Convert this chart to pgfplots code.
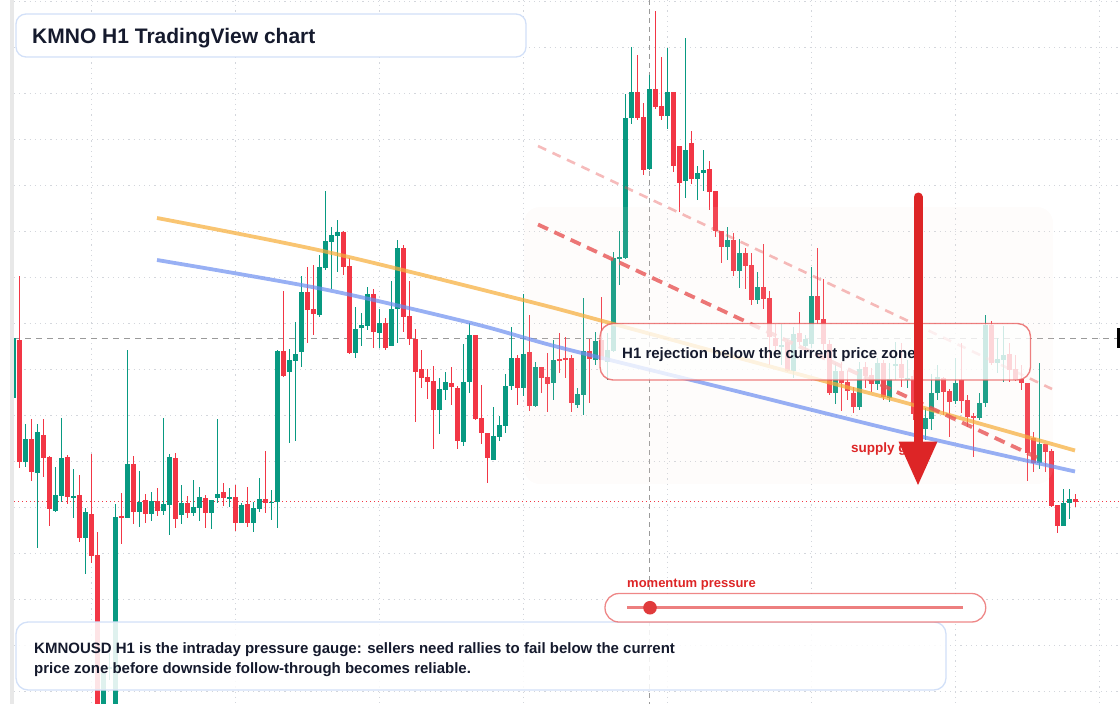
\documentclass[border=0pt]{standalone}
\usepackage{pgfplots}
\pgfplotsset{compat=1.18}
\usepackage{pgfplotstable}
\usepackage{fontspec}
\setmainfont{Liberation Sans}

\definecolor{cgreen}{HTML}{089981}
\definecolor{cred}{HTML}{F23645}
\definecolor{gridc}{HTML}{D3D6DC}
\definecolor{dashgray}{HTML}{9A9A9A}
\definecolor{txt}{HTML}{151A2D}
\definecolor{boxblue}{HTML}{D2E0F8}
\definecolor{lorange}{HTML}{F6AE3C}
\definecolor{lblue}{HTML}{6C8EF0}
\definecolor{dred}{HTML}{E85555}
\definecolor{arrowred}{HTML}{DD2526}
\definecolor{zonec}{HTML}{F5E3D5}

% green candles: x, open, high, low, close (pixel scale, y grows downward)
\pgfplotstableread{
x O H L C
13.3 398 337 400 338
25.3 462 424 467 439
37.3 473 424 548 432
55.3 511 467 512 495
61.3 496 418 502 458
73.3 497 469 518 496
85.3 538 508 574 512
103.3 720 665 730 673
109.3 669 653 680 667
115.3 720 504 730 517
127.3 518 350 518 464
139.3 512 471 527 502
151.3 514 492 521 501
163.3 511 418 515 504
169.3 505 454 535 457
181.3 515 485 524 503
193.3 513 480 516 507
199.3 508 487 521 497
211.3 513 500 529 500
217.3 498 419 503 494
229.3 498 488 507 497
241.3 523 503 523 505
253.3 523 502 532 508
259.3 509 478 512 499
271.3 503 490 520 502
277.3 502 350 528 351
289.3 372 349 443 360
295.3 361 322 441 354
301.3 352 276 367 292
319.3 315 255 317 267
325.3 268 191 270 241
331.3 242 227 289 235
337.3 236 220 272 232
355.3 353 307 358 329
361.3 328 313 346 325
367.3 326 287 330 294
379.3 333 309 348 323
391.3 346 281 346 309
397.3 309 240 343 248
439.3 410 378 434 389
445.3 390 372 400 382
463.3 442 344 446 382
469.3 382 323 393 335
493.3 460 407 460 436
499.3 437 416 441 425
505.3 426 374 433 386
511.3 386 327 390 358
523.3 388 294 396 354
535.3 406 362 407 367
553.3 383 340 400 360
577.3 405 388 408 394
583.3 395 298 415 351
595.3 360 332 365 341
607.3 362 333 380 350
613.3 351 252 352 258
619.3 258 231 285 257
625.3 258 94 259 118
631.3 118 47 124 92
649.3 169 75 170 89
667.3 116 48 129 92
685.3 181 38 198 150
697.3 179 166 200 173
703.3 173 150 191 170
727.3 247 227 260 240
739.3 271 239 288 253
757.3 300 272 304 287
781.3 346 324 365 345
793.3 371 327 378 334
805.3 346 335 350 339
811.3 344 267 348 296
835.3 393 363 404 371
859.3 407 362 410 369
877.3 384 358 390 363
889.3 398 363 402 379
895.3 365 342 380 364
907.3 379 360 388 378
919.3 414 395 425 405
925.3 429 408 440 418
931.3 419 374 430 393
937.3 393 365 400 377
955.3 401 358 404 383
979.3 418 393 420 403
985.3 403 315 407 325
997.3 363 338 373 359
1003.3 360 326 382 355
1039.3 463 363 469 444
1063.3 526 489 526 503
1069.3 503 489 519 499
}\greenc

% red candles
\pgfplotstableread{
x O H L C
19.3 340 276 468 462
31.3 439 419 481 472
43.3 435 419 477 458
49.3 457 456 526 509
67.3 457 455 504 497
79.3 495 475 542 538
91.3 514 454 563 556
97.3 555 532 730 720
121.3 516 493 544 518
133.3 464 456 524 512
145.3 500 494 523 514
157.3 501 488 516 511
175.3 458 453 528 519
187.3 503 496 518 513
205.3 498 495 528 513
223.3 492 483 506 498
235.3 497 485 531 523
247.3 504 487 527 523
265.3 499 451 513 503
283.3 351 291 377 376
307.3 292 267 343 310
313.3 309 265 335 314
343.3 232 231 275 267
349.3 266 258 354 353
373.3 294 289 348 332
385.3 323 318 350 348
403.3 248 245 332 317
409.3 316 281 345 339
415.3 339 329 422 372
421.3 369 350 388 378
427.3 377 369 399 382
433.3 381 366 449 410
451.3 383 367 405 387
457.3 388 386 449 441
475.3 335 335 420 419
481.3 418 385 444 433
487.3 433 433 483 458
517.3 358 355 405 388
529.3 352 315 411 406
541.3 367 367 393 378
547.3 377 353 412 384
559.3 359 333 373 360
565.3 358 337 378 359
571.3 358 355 412 403
589.3 351 339 403 359
601.3 340 297 360 360
637.3 92 55 120 118
643.3 117 103 175 170
655.3 89 11 109 107
661.3 106 57 120 116
673.3 92 92 172 166
679.3 146 146 212 183
691.3 143 131 184 179
709.3 169 161 210 192
715.3 191 191 237 231
721.3 231 231 263 247
733.3 240 233 276 271
745.3 253 248 289 266
751.3 265 253 305 300
763.3 287 244 309 299
769.3 298 291 365 337
775.3 338 324 353 346
787.3 342 340 372 371
799.3 333 312 345 342
817.3 296 248 324 320
823.3 319 279 350 344
829.3 344 340 395 393
841.3 371 362 411 383
847.3 382 371 400 391
853.3 393 387 413 407
865.3 367 362 388 376
871.3 375 368 392 384
883.3 363 360 400 397
901.3 364 343 387 378
913.3 376 370 420 414
943.3 378 377 415 392
949.3 391 389 437 402
961.3 380 343 413 401
967.3 400 395 427 417
973.3 416 413 457 417
991.3 325 321 365 363
1009.3 354 343 382 370
1015.3 369 355 381 380
1021.3 379 365 390 383
1027.3 383 383 481 453
1033.3 438 432 472 463
1045.3 444 444 472 452
1051.3 451 449 507 506
1057.3 505 505 533 526
1075.3 499 494 507 502
}\redc

\begin{document}
\begin{tikzpicture}
\begin{axis}[
  width=1120bp, height=704bp, scale only axis,
  xmin=0, xmax=1120, ymin=0, ymax=704, y dir=reverse,
  axis lines=none, ticks=none, clip=true,
]
% grid
\pgfplotsinvokeforeach{91.3,235.3,379.3,523.3,667.3,811.3,955.3,1099.3}{
  \draw[gridc, line width=1bp, dash pattern=on 1.2bp off 4bp] (axis cs:#1,0) -- (axis cs:#1,704);
}
\pgfplotsinvokeforeach{1.3,47.3,93.3,139.3,185.3,231.3,277.3,323.3,369.3,415.3,461.3,507.3,553.3,599.3,645.3,691.3}{
  \draw[gridc, line width=1bp, dash pattern=on 1.2bp off 4bp] (axis cs:14,#1) -- (axis cs:1120,#1);
}
% reference lines
\draw[dashgray, line width=1.1bp, dash pattern=on 5bp off 4bp] (axis cs:649.3,0) -- (axis cs:649.3,704);
\draw[dashgray, line width=1.1bp, dash pattern=on 6bp off 5bp] (axis cs:14,338.5) -- (axis cs:1117,338.5);
\draw[cred, line width=1bp, dash pattern=on 1.2bp off 2.8bp] (axis cs:14,501.2) -- (axis cs:1120,501.2);

% candles: wicks then bodies
\addplot[draw=none, mark=none, forget plot,
  error bars/.cd, y dir=both, y explicit, error mark=none,
  error bar style={draw=cgreen, line width=1bp}]
  table[x=x, y expr={(\thisrow{H}+\thisrow{L})/2}, y error expr={(\thisrow{L}-\thisrow{H})/2}] {\greenc};
\addplot[draw=none, mark=none, forget plot,
  error bars/.cd, y dir=both, y explicit, error mark=none,
  error bar style={draw=cred, line width=1bp}]
  table[x=x, y expr={(\thisrow{H}+\thisrow{L})/2}, y error expr={(\thisrow{L}-\thisrow{H})/2}] {\redc};
\addplot[draw=none, mark=none, forget plot,
  error bars/.cd, y dir=both, y explicit, error mark=none,
  error bar style={draw=cgreen, line width=4.7bp}]
  table[x=x, y expr={(\thisrow{O}+\thisrow{C})/2}, y error expr={max(abs(\thisrow{O}-\thisrow{C})/2,0.7)}] {\greenc};
\addplot[draw=none, mark=none, forget plot,
  error bars/.cd, y dir=both, y explicit, error mark=none,
  error bar style={draw=cred, line width=4.7bp}]
  table[x=x, y expr={(\thisrow{O}+\thisrow{C})/2}, y error expr={max(abs(\thisrow{O}-\thisrow{C})/2,0.7)}] {\redc};

% left strip
\fill[gray!18] (axis cs:10,0) rectangle (axis cs:14,704);
\fill[white] (axis cs:0,0) rectangle (axis cs:10,704);

% zone overlay
\fill[zonec, fill opacity=0.1, rounded corners=16bp] (axis cs:524,207) rectangle (axis cs:1053,484);

% trend lines
\draw[lorange, opacity=0.72, line width=3.8bp] plot[smooth] coordinates {(axis cs:157,218) (axis cs:325,251.5) (axis cs:523,300) (axis cs:610,323) (axis cs:820,380) (axis cs:910,404) (axis cs:1075,450.5)};
\draw[lblue, opacity=0.7, line width=3.8bp] plot[smooth] coordinates {(axis cs:157,260) (axis cs:325,289.5) (axis cs:473,323.5) (axis cs:560,347.5) (axis cs:740,392) (axis cs:910,434) (axis cs:1075,471.5)};
\draw[dred, opacity=0.4, line width=2.6bp, dash pattern=on 9bp off 7bp] (axis cs:538,146) -- (axis cs:1052,389);
\draw[dred, opacity=0.8, line width=3.8bp, dash pattern=on 11bp off 7bp] (axis cs:538,224.5) -- (axis cs:1037,457.5);

% annotation box
\draw[draw=dred, draw opacity=0.75, line width=1.4bp, fill=white, fill opacity=0.78, rounded corners=13bp] (axis cs:600,323.5) rectangle (axis cs:1030.5,380);
\node[anchor=base west, inner sep=0pt, text=txt, font=\fontsize{15bp}{18bp}\selectfont\bfseries] at (axis cs:622,358.5) {H1 rejection below the current price zone};

% supply gate + arrow
\node[anchor=base west, inner sep=0pt, text=arrowred, font=\fontsize{13.5bp}{16bp}\selectfont\bfseries] at (axis cs:851,452.5) {supply gate};
\draw[arrowred, line width=9bp, line cap=round] (axis cs:918,197) -- (axis cs:918,446);
\fill[arrowred] (axis cs:898.5,441.5) -- (axis cs:937.5,441.5) -- (axis cs:918,485) -- cycle;

% bottom box
\draw[draw=boxblue, line width=1.3bp, fill=white, fill opacity=0.87, rounded corners=12bp] (axis cs:16,622) rectangle (axis cs:946,690);
\node[anchor=base west, inner sep=0pt, text=txt, font=\fontsize{15bp}{18bp}\selectfont\bfseries] at (axis cs:34,653.3) {KMNOUSD H1 is the intraday pressure gauge: sellers need rallies to fail below the current};
\node[anchor=base west, inner sep=0pt, text=txt, font=\fontsize{15bp}{18bp}\selectfont\bfseries] at (axis cs:34,673.3) {price zone before downside follow-through becomes reliable.};

% momentum pressure
\node[anchor=base west, inner sep=0pt, text=arrowred, font=\fontsize{13bp}{16bp}\selectfont\bfseries] at (axis cs:627,587.5) {momentum pressure};
\draw[draw=dred, draw opacity=0.7, line width=1.3bp, fill=white, rounded corners=14bp] (axis cs:605,593.5) rectangle (axis cs:985.7,622);
\draw[dred, opacity=0.75, line width=2.8bp] (axis cs:627.3,607.7) -- (axis cs:962.7,607.7);
\fill[arrowred!90!white] (axis cs:650,607.7) circle[radius=6.8bp];

% title box
\draw[draw=boxblue, line width=1.3bp, fill=white, rounded corners=10bp] (axis cs:16,14) rectangle (axis cs:526,57);
\node[anchor=base west, inner sep=0pt, text=txt, font=\fontsize{21bp}{25bp}\selectfont\bfseries] at (axis cs:32,43.5) {KMNO H1 TradingView chart};

% price label at right edge
\fill[black] (axis cs:1117,328.3) rectangle (axis cs:1120,348.3);
\end{axis}
\end{tikzpicture}
\end{document}
